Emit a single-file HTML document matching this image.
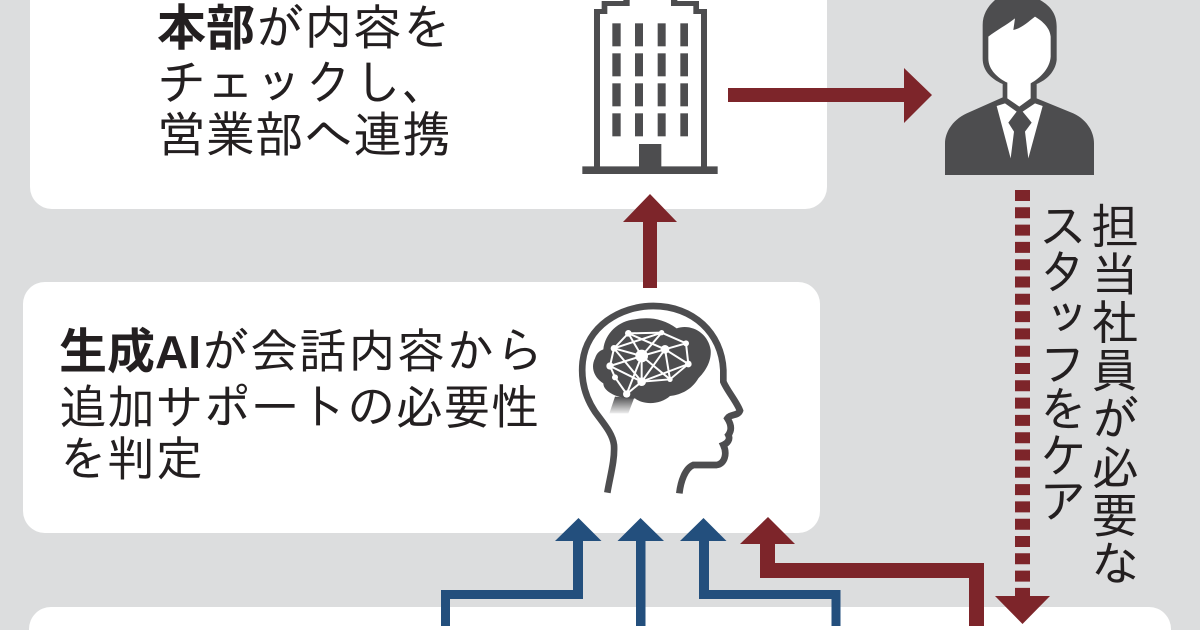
<!DOCTYPE html>
<html lang="ja"><head><meta charset="utf-8">
<style>
html,body{margin:0;padding:0;width:1200px;height:630px;overflow:hidden}
#c{position:relative;width:1200px;height:630px;overflow:hidden;background:#dcddde;font-family:"Liberation Sans","IPAGothic","Noto Sans CJK JP",sans-serif;color:#231f20}
.p{position:absolute;background:#fff;border-radius:22px}
.t{position:absolute;font-size:48px;line-height:52.500px;white-space:nowrap;font-family:"IPAGothic","Noto Sans CJK JP",sans-serif}
.t b{font-family:"Liberation Sans","Noto Sans CJK JP",sans-serif;font-weight:700}
.v{position:absolute;writing-mode:vertical-rl;font-size:48px;line-height:48px;white-space:nowrap;font-family:"IPAGothic","Noto Sans CJK JP",sans-serif}
svg{position:absolute;left:0;top:0}
</style></head><body><div id="c">
<div class="p" style="left:30px;top:0;width:797px;height:209px;border-radius:0 0 22px 22px"></div>
<div class="p" style="left:23px;top:282px;width:797px;height:251px"></div>
<div class="p" style="left:29px;top:607px;width:1142px;height:23px;border-radius:22px 22px 0 0"></div>

<div class="t" style="left:157px;top:1px;font-size:49px"><b>本部</b>が内容を<br>チェックし、<br>営業部へ連携</div>
<div class="t" style="left:59px;top:324px"><b>生成<span style="font-size:46px">AI</span></b><span style="letter-spacing:1px">が会話内容から</span><br>追加サポートの必要性<br>を判定</div>
<div class="v" style="left:1091px;top:200px;letter-spacing:.3px">担当社員が必要な</div>
<div class="v" style="left:1039px;top:201px;letter-spacing:-2.300px">スタッフをケア</div>

<svg width="1200" height="630" viewBox="0 0 1200 630">
<defs><linearGradient id="g" x1="0" y1="0" x2="0" y2="1"><stop offset="0" stop-color="#4d4d4f"/><stop offset="1" stop-color="#4d4d4f" stop-opacity=".1"/></linearGradient></defs>

<!-- building -->
<g transform="translate(560,0) scale(.33333)" fill="#4d4d4f">
<path d="M102 27H125V3H190V0H209V18H142V42H120V499H237V432H304V499H423V42H400V18H333V0H352V3H417V27H441V499H473V522H67V499H102Z"/>
<g>
<rect x="157" y="70" width="25" height="69"/><rect x="225" y="70" width="24" height="69"/><rect x="293" y="70" width="24" height="69"/><rect x="361" y="70" width="23" height="69"/>
<rect x="157" y="160" width="25" height="69"/><rect x="225" y="160" width="24" height="69"/><rect x="293" y="160" width="24" height="69"/><rect x="361" y="160" width="23" height="69"/>
<rect x="157" y="250" width="25" height="69"/><rect x="225" y="250" width="24" height="69"/><rect x="293" y="250" width="24" height="69"/><rect x="361" y="250" width="23" height="69"/>
<rect x="157" y="340" width="25" height="69"/><rect x="225" y="340" width="24" height="69"/><rect x="293" y="340" width="24" height="69"/><rect x="361" y="340" width="23" height="69"/>
</g></g>

<!-- person -->
<g transform="translate(900,0) scale(.33333)">
<path fill="#4d4d4f" d="M285 0H420C455 20 470 45 470 80V180C466 215 440 240 410 252V295L520 340C560 358 582 395 582 430V525H135V430C135 395 160 358 200 340L308 292V252C270 235 248 210 248 175V75C248 45 262 20 285 0Z"/>
<path fill="#fff" d="M345 55L340 90C365 85 385 65 405 50C430 65 450 85 452 110V170C450 205 420 235 392 250V295L358 320L322 295V248C295 235 265 210 265 175V110C290 90 320 75 345 55Z"/>
<path fill="#fff" d="M290 318L315 310L350 335L325 368L342 395L332 475Z"/>
<path fill="#fff" d="M428 318L405 310L368 335L395 368L375 395L385 475Z"/>
</g>

<!-- brain head -->
<g transform="translate(560,290) scale(.33333)">
<path fill="none" stroke="#4d4d4f" stroke-width="20" d="M142 608C150 560 165 510 162 465C158 430 130 400 105 365C75 320 62 270 68 215C80 110 180 48 280 48C400 48 485 130 490 240V275C500 300 530 335 540 362C535 378 510 372 502 385C515 405 515 422 505 435C512 448 502 460 490 465C502 490 495 522 470 525H400C375 535 362 575 358 610"/>
<path fill="url(#g)" d="M165 320L148 370H205L222 325Z"/>
<path fill="#4d4d4f" d="M130 178C135 130 175 92 225 88C265 80 310 85 350 115C395 100 445 130 452 180C455 215 435 245 415 265C395 300 360 315 330 318C300 345 250 345 225 325C190 330 130 310 130 280C105 265 90 235 105 205C110 190 118 182 130 178Z"/>
<g stroke="#fff" stroke-width="6" fill="none">
<path d="M205 130L305 128L378 160L385 222L330 268L245 275L200 312L165 262L150 228L162 175L205 130"/>
<path d="M245 198L205 130M245 198L305 128M245 198L162 175M245 198L150 228M245 198L245 275M245 198L330 268M245 198L315 178M162 175L305 128M205 130L315 178M315 178L378 160M315 178L385 222M315 178L330 268M315 178L245 275M162 175L245 275M150 228L245 275M200 312L245 198M385 222L245 275"/>
</g>
<g fill="#fff"><circle cx="205" cy="130" r="10"/><circle cx="305" cy="128" r="8"/><circle cx="378" cy="160" r="9"/><circle cx="385" cy="222" r="10"/><circle cx="330" cy="268" r="8"/><circle cx="245" cy="275" r="13"/><circle cx="200" cy="312" r="11"/><circle cx="165" cy="262" r="9"/><circle cx="150" cy="228" r="11"/><circle cx="162" cy="175" r="10"/><circle cx="245" cy="198" r="19"/><circle cx="315" cy="178" r="13"/></g>
</g>

<!-- red arrows -->
<g fill="#7d252a">
<path d="M728 88H904V68L932 95L904 123V102H728Z"/>
<path d="M643 288V222H623L650 194L677 222H657V288Z"/>
<path d="M969 626V578H760V544H740L768 517L795 544H775V563H984V626Z"/>
<path d="M995 596H1050L1022.500 624Z"/>
</g>
<line x1="1022.500" y1="190" x2="1022.500" y2="597" stroke="#7d252a" stroke-width="15" stroke-dasharray="11 6.300"/>

<!-- blue arrows -->
<g fill="#234f7d">
<path d="M441 626V590H573V541H555L578.500 518L601.500 541H583V599H450V626Z"/>
<path d="M636 626V541H617.500L640.500 518L664 541H645.500V626Z"/>
<path d="M831.500 626V599H699V541H680L703.500 518L726.500 541H709V590H840.500V626Z"/>
</g>
</svg>
</div></body></html>
